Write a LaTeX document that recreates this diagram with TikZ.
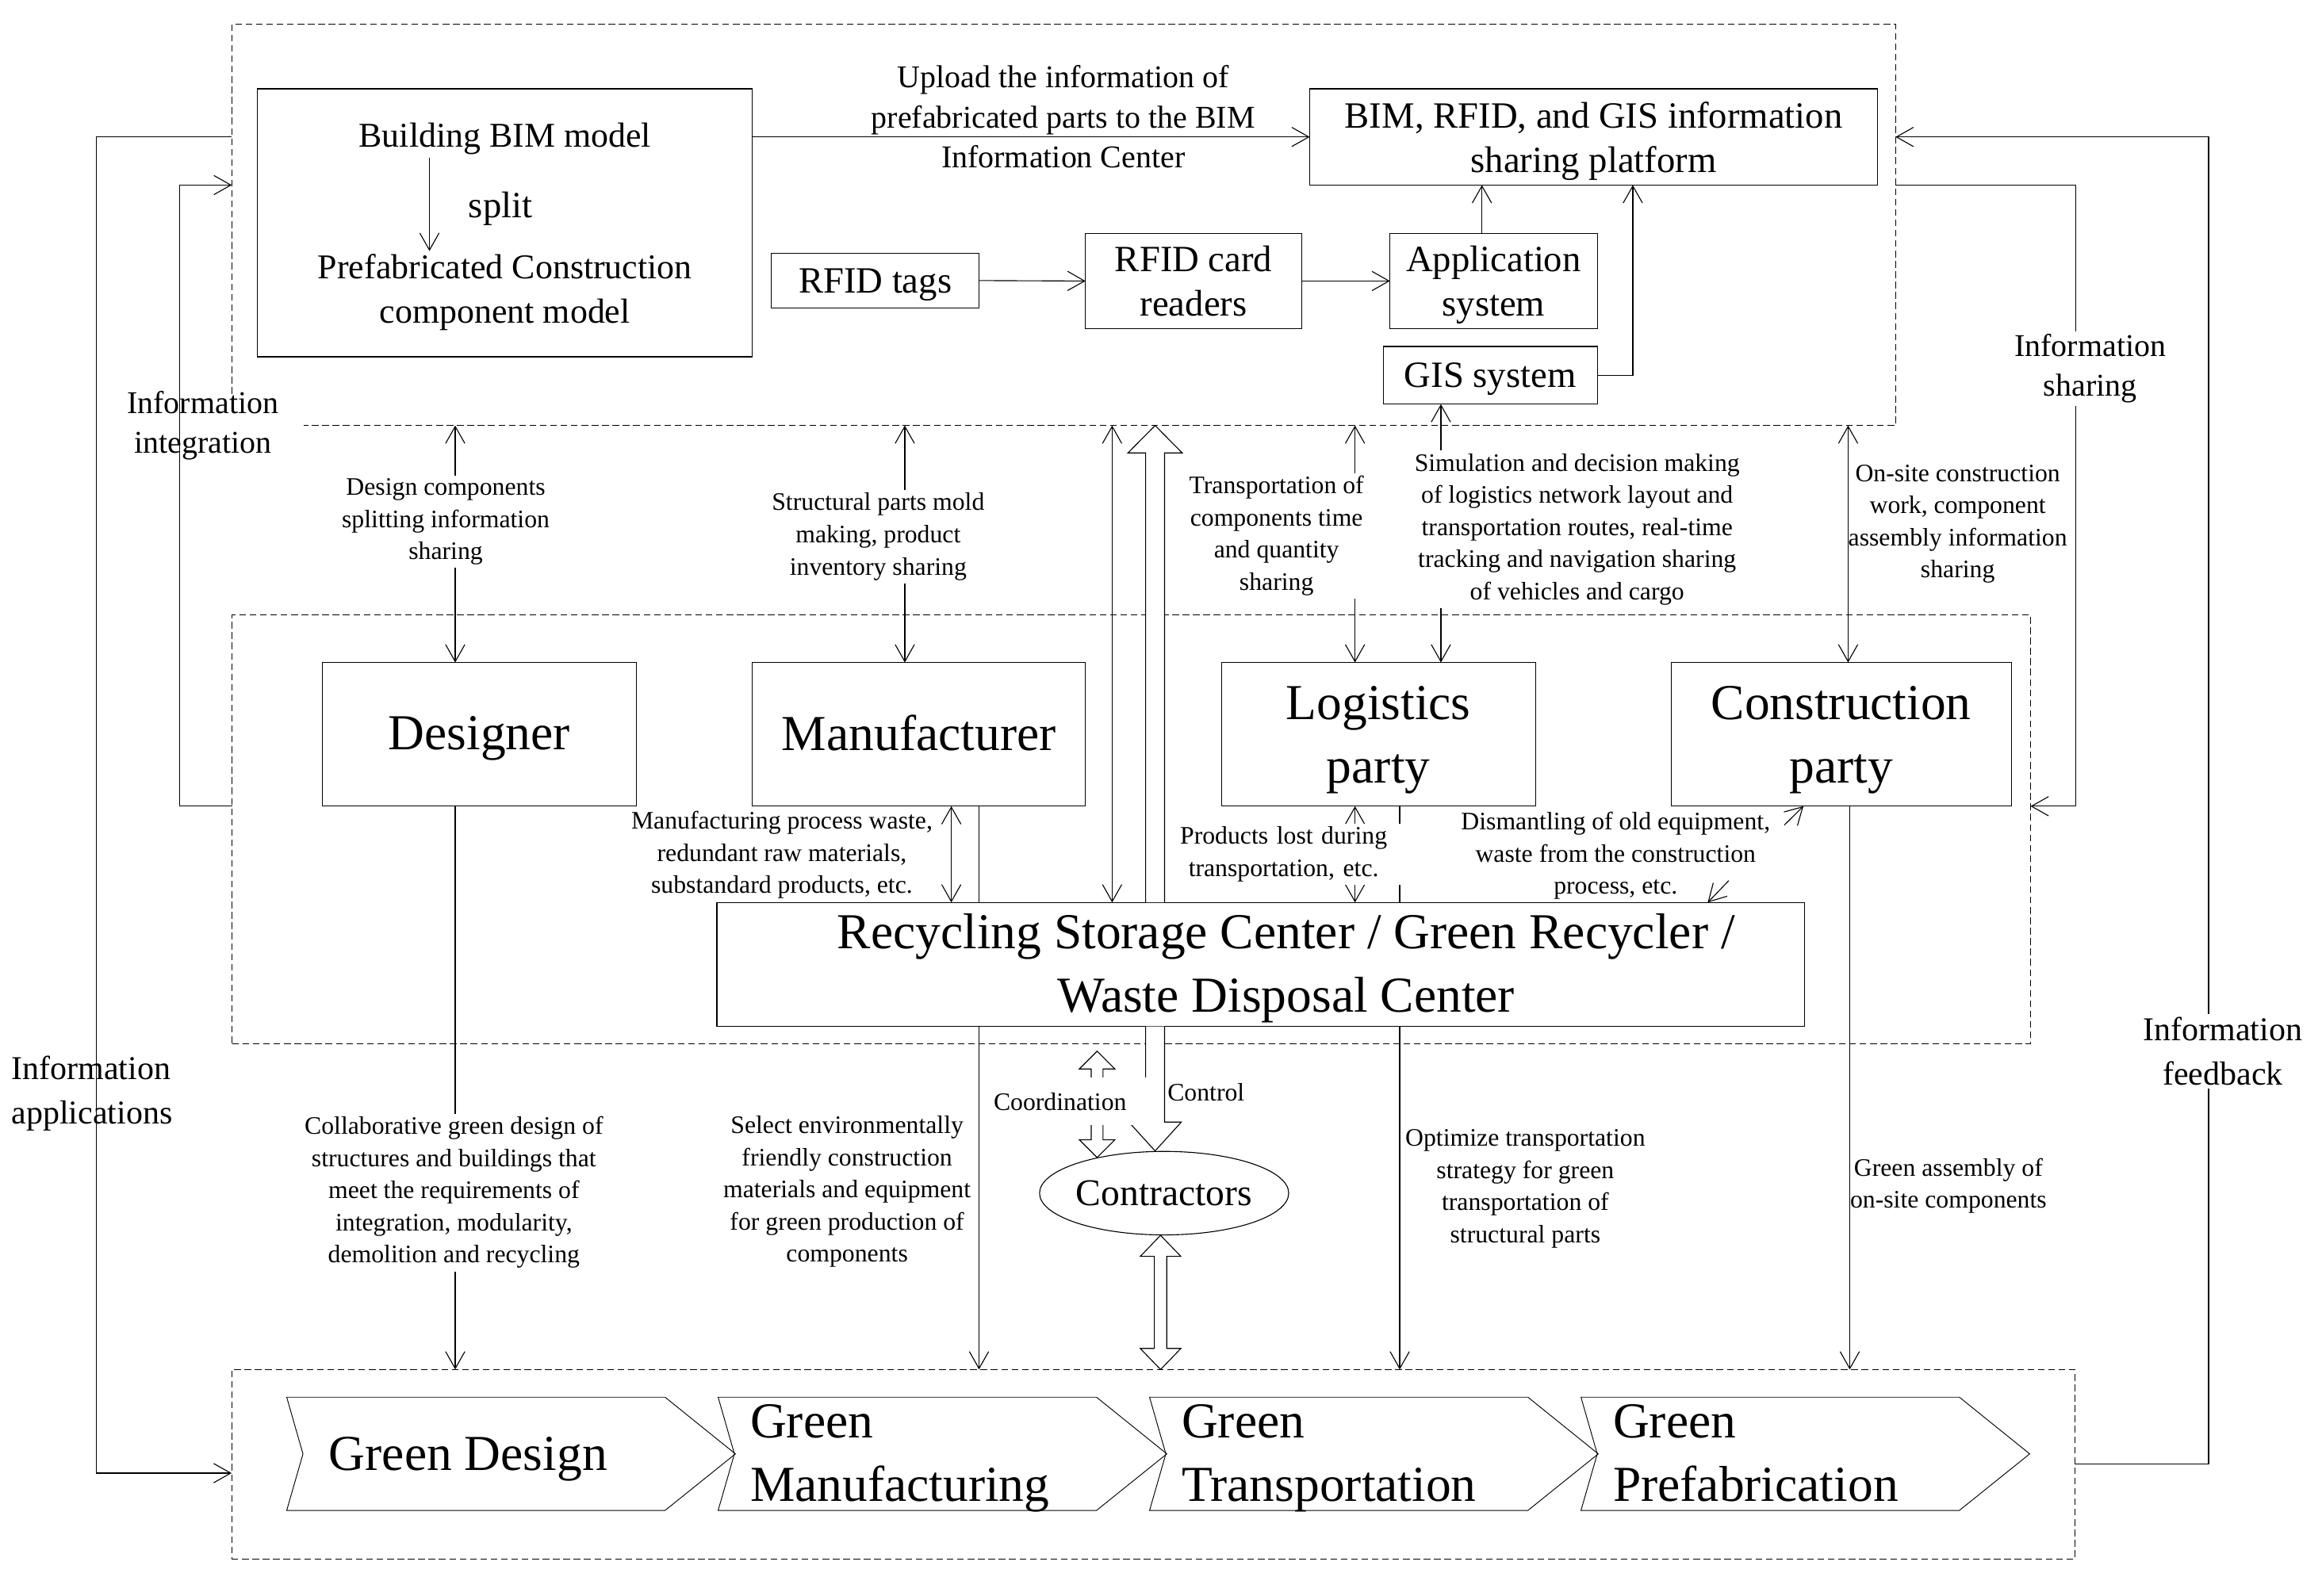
\documentclass[tikz,border=0pt]{standalone}
\usepackage{fontspec}
\setmainfont{Liberation Serif}
\usetikzlibrary{arrows.meta,calc,shapes.geometric}

\newcommand{\sizebig}{\fontsize{34}{43}\selectfont}
\newcommand{\sizebox}{\fontsize{25}{30}\selectfont}
\newcommand{\sizebim}{\fontsize{23.5}{30}\selectfont}
\newcommand{\sizelabel}{\fontsize{21.4}{27}\selectfont}
\newcommand{\sizeside}{\fontsize{22.5}{30}\selectfont}
\newcommand{\sizenote}{\fontsize{17}{21.7}\selectfont}

\tikzstyle{dashline}=[line width=0.5pt,dash pattern=on 4.5pt off 2.5pt]
\tikzstyle{frame}=[dashline,rectangle,inner sep=0pt,outer sep=0pt]
\tikzstyle{block}=[draw,rectangle,fill=white,line width=0.6pt,inner sep=0pt,outer sep=0pt,align=center]
\tikzstyle{bigblock}=[block,font=\sizebig,text depth=2pt]
\tikzstyle{smallblock}=[block,font=\sizebox,text depth=-2pt]
\tikzstyle{note}=[font=\sizenote,align=center,inner sep=0pt]
\tikzstyle{whitenote}=[note,fill=white,inner sep=2pt]
\tikzstyle{arr}=[line width=0.6pt,-{Straight Barb[length=11.5pt,width=13pt]}]
\tikzstyle{dbl}=[line width=0.6pt,{Straight Barb[length=11.5pt,width=13pt]}-{Straight Barb[length=11.5pt,width=13pt]}]
\tikzstyle{hollow}=[line width=0.6pt,fill=white]
\tikzstyle{chevron}=[line width=0.5pt]

% hollow block arrows: shaft half width, head half width, head length, tail, tip
\newcommand{\hollowone}[5]{%
  \path (#4) coordinate (ha) (#5) coordinate (hb);
  \path ($(hb)!#3!(ha)$) coordinate (hn);
  \draw[hollow] ($(ha)!#1!90:(hb)$) -- ($(hn)!#1!90:(hb)$) -- ($(hn)!#2!90:(hb)$) -- (hb)
    -- ($(hn)!#2!-90:(hb)$) -- ($(hn)!#1!-90:(hb)$) -- ($(ha)!#1!-90:(hb)$);
}
\newcommand{\hollowtwo}[5]{%
  \path (#4) coordinate (ha) (#5) coordinate (hb);
  \path ($(hb)!#3!(ha)$) coordinate (hn) ($(ha)!#3!(hb)$) coordinate (hm);
  \draw[hollow] (ha) -- ($(hm)!#2!90:(hb)$) -- ($(hm)!#1!90:(hb)$) -- ($(hn)!#1!90:(hb)$) -- ($(hn)!#2!90:(hb)$) -- (hb)
    -- ($(hn)!#2!-90:(hb)$) -- ($(hn)!#1!-90:(hb)$) -- ($(hm)!#1!-90:(hb)$) -- ($(hm)!#2!-90:(hb)$) -- cycle;
}

\begin{document}
\begin{tikzpicture}[x=1pt,y=-1pt]
\useasboundingbox (0,0) rectangle (1568,1077.5);

% dashed frames
\node[frame,minimum width=1123.5pt,minimum height=271pt] (topbox) at (718.25,151.9) {};
\draw[dashline] ([yshift=21.4pt]topbox.south west) -- (topbox.north west) -- (topbox.north east)
  -- (topbox.south east) -- ([xshift=48.5pt]topbox.south west);
\node[frame,draw,minimum width=1214.4pt,minimum height=289.5pt] (midbox) at (764,560.05) {};
\node[frame,draw,minimum width=1244.6pt,minimum height=128pt] (botbox) at (778.7,989) {};

% information platform
\node[block,minimum width=334pt,minimum height=181pt] (bimbox) at (341,150.5) {};
\node[note,font=\sizebim] (bim) at (341,93.5) {Building BIM model};
\node[note,font=\sizebox] (split) at (338,141) {split};
\node[note,font=\sizebim] (prefab) at (341,197.5) {Prefabricated Construction\\component model};
\node[smallblock,text depth=-3pt,minimum width=383.6pt,minimum height=65pt] (platform) at (1076.2,92.5) {BIM, RFID, and GIS information\\sharing platform};
\node[smallblock,minimum width=140pt,minimum height=37pt] (tags) at (591,189.5) {RFID tags};
\node[smallblock,minimum width=146pt,minimum height=64.4pt] (readers) at (806,189.8) {RFID card\\readers};
\node[smallblock,minimum width=140pt,minimum height=64.4pt] (appsys) at (1008.6,189.8) {Application\\system};
\node[smallblock,minimum width=144.6pt,minimum height=39pt] (gis) at (1006.3,253.5) {GIS system};

\draw[arr] ([xshift=-51pt,yshift=-2pt]bim.south) -- ([xshift=-51pt,yshift=2pt]bim.south |- prefab.north);
\draw[arr] (platform.west -| bimbox.east) -- (platform.west);
\draw[arr] (tags.east) -- (readers.west);
\draw[arr] (readers.east) -- (appsys.west);
\draw[arr] ([xshift=-7.9pt]appsys.north) -- ([xshift=-7.9pt]appsys.north |- platform.south);
\draw[arr] (gis.east) -| ([xshift=26.4pt]platform.south);

% participants
\node[bigblock,minimum width=212.2pt,minimum height=97.1pt] (designer) at (323.6,496) {Designer};
\node[bigblock,minimum width=224.7pt,minimum height=97.1pt] (manuf) at (620.5,496) {Manufacturer};
\node[bigblock,text depth=-1.5pt,minimum width=212.1pt,minimum height=97.1pt] (logistics) at (930.8,496) {Logistics\\party};
\node[bigblock,text depth=-1.5pt,minimum width=229.8pt,minimum height=97.1pt] (construct) at (1243.3,496) {Construction\\party};

% green stages
\foreach \i/\dx/\tdep/\nm/\txt in {0/28.4/-1.5/gdesign/{Green Design},1/21.5/1.5/gmanuf/{Green\\Manufacturing},2/21.5/1.5/gtrans/{Green\\Transportation},3/21.5/1.5/gprefab/{Green\\Prefabrication}}{
  \draw[chevron] ({193.6+291.33*\i},943.7) -- ++(255.5,0) -- ++(47.5,38.3) -- ++(-47.5,38.2) -- ++(-255.5,0) -- ++(11,-38.2) -- cycle;
  \node[anchor=west,align=left,font=\sizebig,text depth=\tdep pt,inner sep=0pt] (\nm) at ({193.6+291.33*\i+\dx},982) {\txt};
}

% lines running behind the recycling center
\draw[arr] ([xshift=40.6pt]manuf.south) -- ([xshift=40.6pt]manuf.south |- botbox.north);
\draw[arr] ([xshift=14.4pt]logistics.south) -- ([xshift=14.4pt]logistics.south |- botbox.north);

\node[bigblock,minimum width=734.6pt,minimum height=83.7pt] (recycle) at (851.4,651.4) {};
\node[note,font=\sizebig,text depth=2pt] (recycletext) at ([xshift=17pt]recycle.center) {Recycling Storage Center / Green Recycler /\\Waste Disposal Center};
\node[draw,ellipse,fill=white,line width=0.6pt,inner sep=0pt,minimum width=167.2pt,minimum height=56.4pt,font=\fontsize{25.5}{30}\selectfont] (contr) at (786.1,805.9) {Contractors};

% outer loops
\draw[arr] (topbox.west |- platform) -- ++(-91.5,0) |- ([yshift=-6pt]botbox.west);
\draw[arr] (midbox.west |- designer.south) -- ++(-35.3,0) |- (topbox.west |- platform.south);
\draw[arr] (topbox.east |- platform.south) -- ++(121.6,0) |- (midbox.east |- construct.south);
\draw[arr] (botbox.east) -- ++(90.4,0) |- (topbox.east |- platform);

% sharing between platform and participants
\draw[dbl] ([xshift=-16.2pt]designer.north) -- ([xshift=-16.2pt]designer.north |- topbox.south);
\draw[dbl] ([xshift=-9.5pt]manuf.north) -- ([xshift=-9.5pt]manuf.north |- topbox.south);
\draw[dbl] ([xshift=-100.4pt]recycle.north) -- ([xshift=-100.4pt]recycle.north |- topbox.south);
\draw[dbl] ([xshift=-15.8pt]logistics.north) -- ([xshift=-15.8pt]logistics.north |- topbox.south);
\draw[dbl] ([xshift=-33.3pt]gis.south) -- ([xshift=-33.3pt]gis.south |- logistics.north);
\draw[dbl] ([xshift=4.7pt]construct.north) -- ([xshift=4.7pt]construct.north |- topbox.south);

% waste flows
\draw[dbl] ([xshift=21.9pt]manuf.south) -- ([xshift=21.9pt]manuf.south |- recycle.north);
\draw[dbl] ([xshift=-15.8pt]logistics.south) -- ([xshift=-15.8pt]logistics.south |- recycle.north);
\coordinate (dismup) at (1204.9,557.3);
\coordinate (dismdown) at (1167.4,594.8);
\draw[arr] (dismup) -- ([xshift=-25.5pt]construct.south);
\draw[arr] (dismdown) -- ([xshift=301.8pt]recycle.north);

% applications
\draw[arr] ([xshift=-16.2pt]designer.south) -- ([xshift=-16.2pt]designer.south |- botbox.north);
\draw[arr] ([xshift=5.8pt]construct.south) -- ([xshift=5.8pt]construct.south |- botbox.north);

% hollow arrows
\coordinate (upA) at ([xshift=-71.4pt]recycle.north);
\coordinate (upB) at (upA |- topbox.south);
\hollowone{6.4pt}{18.3pt}{18.5pt}{upA}{upB}
\coordinate (ctlA) at ([xshift=-71.4pt]recycle.south);
\coordinate (ctlB) at (ctlA |- contr.north);
\hollowone{6.4pt}{17.7pt}{19.5pt}{ctlA}{ctlB}
\coordinate (coordtop) at ([yshift=-5.2pt]midbox.south -| contr.152);
\hollowtwo{4pt}{12pt}{12pt}{coordtop}{contr.152}
\coordinate (lowA) at ([xshift=-2.4pt]contr.south);
\coordinate (lowB) at (lowA |- botbox.north);
\hollowtwo{4.2pt}{13.7pt}{14.2pt}{lowA}{lowB}

% labels
\node[note,font=\sizelabel] (upload) at (718,79) {Upload the information of\\prefabricated parts to the BIM\\Information Center};
\node[note,font=\sizelabel] (intlabel) at (137,287.5) {Information\\integration};
\node[whitenote,font=\sizelabel] (sharelabel) at (1411.5,249) {Information\\sharing};
\node[note,font=\sizeside,anchor=west,align=left] (appllabel) at (7.5,738.5) {Information\\applications};
\node[whitenote,font=\sizeside] (feedlabel) at (1501,710) {Information\\feedback};
\node[whitenote] (designnote) at (301,352.5) {Design components\\splitting information\\sharing};
\node[whitenote] (moldnote) at (593,362.5) {Structural parts mold\\making, product\\inventory sharing};
\node[whitenote] (transnote) at (862,362) {Transportation of\\components time\\and quantity\\sharing};
\node[whitenote] (simnote) at (1065,357.5) {Simulation and decision making\\of logistics network layout and\\transportation routes, real-time\\tracking and navigation sharing\\of vehicles and cargo};
\node[note] (onsitenote) at (1322,354) {On-site construction\\work, component\\assembly information\\sharing};
\node[note] (wastenote) at (528,577.5) {Manufacturing process waste,\\redundant raw materials,\\substandard products, etc.};
\node[whitenote,text width=154pt] (lostnote) at (866.8,577) {Products lost during\\transportation, etc.};
\node[note] (dismnote) at (1091,578) {Dismantling of old equipment,\\waste from the construction\\process, etc.};
\node[whitenote] (collabnote) at (306.5,805.5) {Collaborative green design of\\structures and buildings that\\meet the requirements of\\integration, modularity,\\demolition and recycling};
\node[note] (selectnote) at (572,805) {Select environmentally\\friendly construction\\materials and equipment\\for green production of\\components};
\node[note] (optnote) at (1030,803) {Optimize transportation\\strategy for green\\transportation of\\structural parts};
\node[note] (assemnote) at (1315.7,801) {Green assembly of\\on-site components};
\node[note,fill=white,text width=102pt,align=left,inner xsep=2pt,minimum height=32pt] (coordnote) at (722,744) {Coordination};
\node[note] (ctrlnote) at (814.4,738) {Control};
\end{tikzpicture}
\end{document}
